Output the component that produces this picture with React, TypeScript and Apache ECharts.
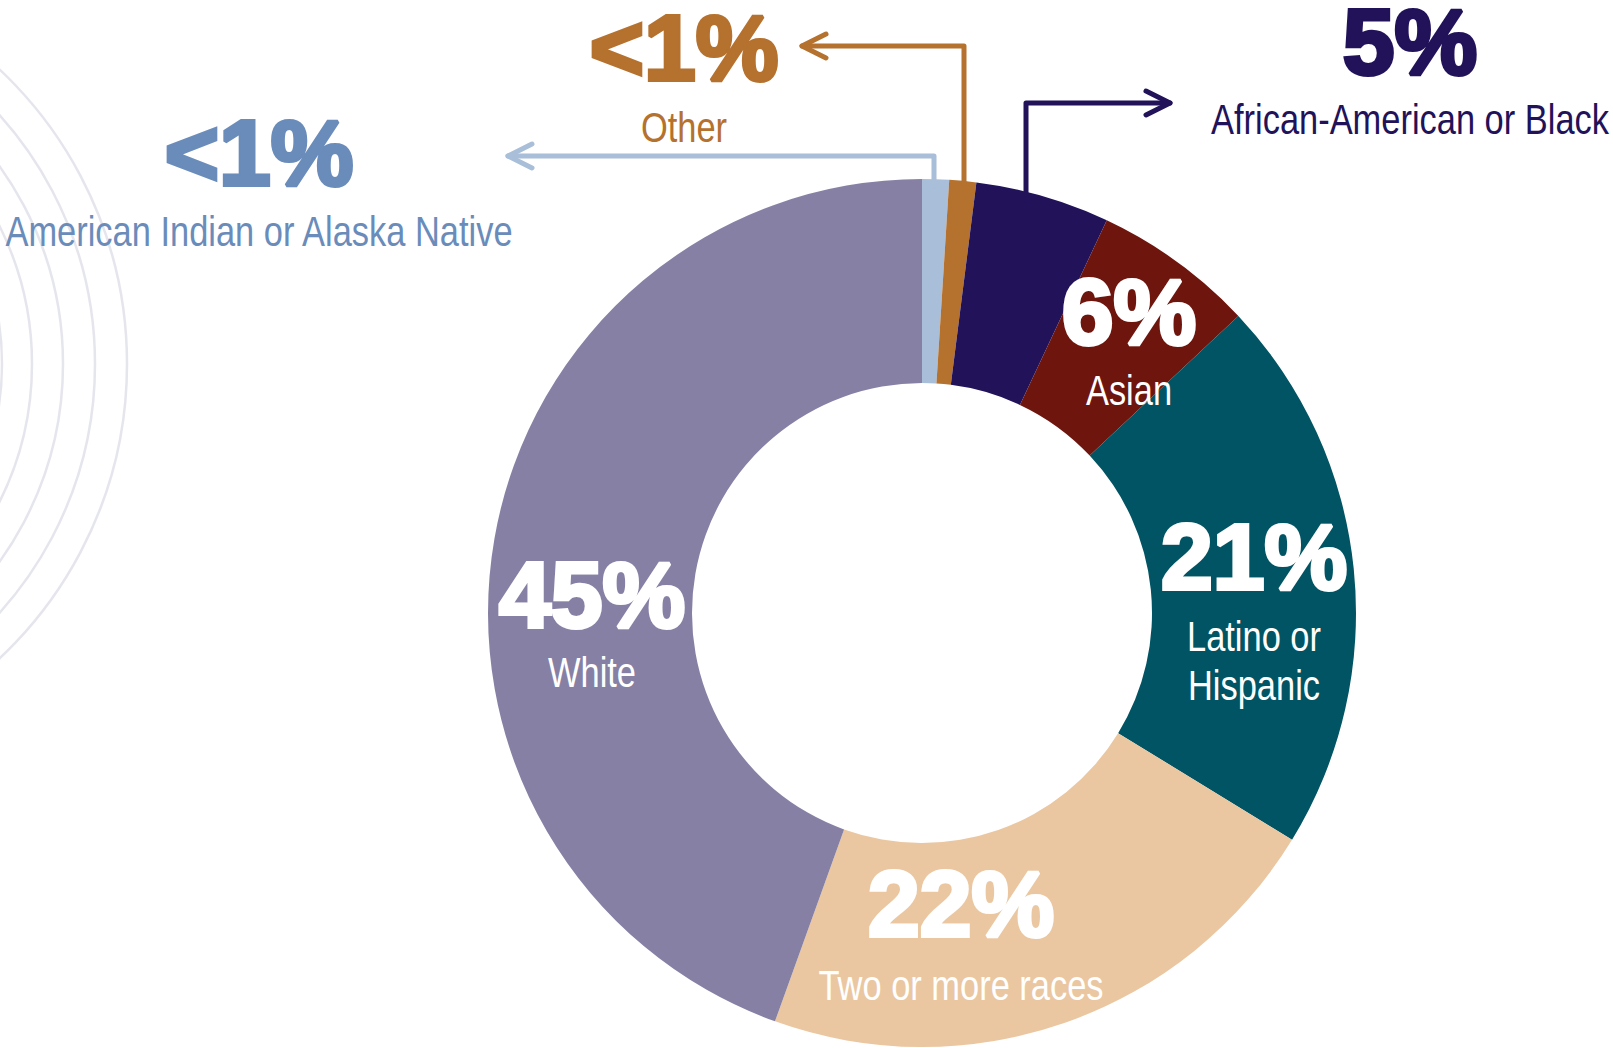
import React, { useEffect, useRef } from "react";
import * as echarts from "echarts";

// ---- data ----
const categories = [
  "American Indian or Alaska Native",
  "Other",
  "African-American or Black",
  "Asian",
  "Latino or\nHispanic",
  "Two or more races",
  "White",
];
const shares = [1.0, 1.0, 5.0, 6.0, 20.75, 21.75, 44.5];
const pctLabels = ["<1%", "<1%", "5%", "6%", "21%", "22%", "45%"];
const sliceColors = ["#a9bed8", "#b5712e", "#22125a", "#6e150e", "#005463", "#eac7a1", "#8680a5"];
const labelColors = ["#6a8cba", "#b5712e", "#22125a", "#ffffff", "#ffffff", "#ffffff", "#ffffff"];

// ---- layout (label anchors: center x, percent baseline, name baseline) ----
const labelLayout = [
  { cx: 259, pctBase: 185, nameBase: 246 },
  { cx: 684, pctBase: 80, nameBase: 142 },
  { cx: 1410, pctBase: 74, nameBase: 134 },
  { cx: 1129, pctBase: 344, nameBase: 405 },
  { cx: 1254, pctBase: 589, nameBase: 651 },
  { cx: 961, pctBase: 936, nameBase: 1000 },
  { cx: 592, pctBase: 627, nameBase: 687 },
];

const arrows = [
  { idx: 0, pts: [[934, 186], [934, 156], [508, 156]], dir: -1 },
  { idx: 1, pts: [[964, 186], [964, 46], [802, 46]], dir: -1 },
  { idx: 2, pts: [[1026, 200], [1026, 103], [1170, 103]], dir: 1 },
];

const PCT_SIZE = 93;
const NAME_SIZE = 42;
const NAME_LINE = 49;

export default function App() {
  const ref = useRef<HTMLDivElement>(null);
  useEffect(() => {
    if (!ref.current) return;
    const chart = echarts.init(ref.current, null, { renderer: "svg" });

    const graphics: any[] = [];
    // decorative concentric arcs
    [404, 372, 340, 309, 279].forEach((r) => {
      graphics.push({
        type: "circle",
        z: 0,
        silent: true,
        shape: { cx: -277, cy: 364, r },
        style: { fill: "none", stroke: "#e5e5ed", lineWidth: 2.5 },
      });
    });

    // arrows
    arrows.forEach((a) => {
      const color = sliceColors[a.idx];
      graphics.push({
        type: "polyline",
        z: 5,
        silent: true,
        shape: { points: a.pts },
        style: { fill: "none", stroke: color, lineWidth: 5, lineJoin: "round", lineCap: "round" },
      });
      const tip = a.pts[a.pts.length - 1];
      graphics.push({
        type: "polyline",
        z: 5,
        silent: true,
        shape: {
          points: [
            [tip[0] - a.dir * 24, tip[1] - 12],
            [tip[0], tip[1]],
            [tip[0] - a.dir * 24, tip[1] + 12],
          ],
        },
        style: { fill: "none", stroke: color, lineWidth: 5, lineJoin: "round", lineCap: "round" },
      });
    });

    // labels
    categories.forEach((name, i) => {
      const L = labelLayout[i];
      const col = labelColors[i];
      graphics.push({
        type: "text",
        z: 10,
        silent: true,
        x: L.cx,
        y: L.pctBase - PCT_SIZE * 0.3465,
        style: {
          text: pctLabels[i],
          fill: col,
          stroke: col,
          lineWidth: 4,
          fontFamily: "'Liberation Sans', Arial, sans-serif",
          fontWeight: "bold",
          fontSize: PCT_SIZE,
          align: "center",
          verticalAlign: "middle",
        },
      });
      name.split("\n").forEach((line, k) => {
        graphics.push({
          type: "text",
          z: 10,
          silent: true,
          x: L.cx,
          y: L.nameBase + k * NAME_LINE - NAME_SIZE * 0.3465,
          scaleX: 0.82,
          style: {
            text: line,
            fill: col,
            fontFamily: "'Liberation Sans', Arial, sans-serif",
            fontSize: NAME_SIZE,
            align: "center",
            verticalAlign: "middle",
          },
        });
      });
    });

    chart.setOption({
      animation: false,
      backgroundColor: "#ffffff",
      series: [
        {
          type: "pie",
          center: [922, 613],
          radius: [230, 434],
          startAngle: 90,
          clockwise: true,
          silent: true,
          label: { show: false },
          labelLine: { show: false },
          emphasis: { disabled: true },
          itemStyle: { borderWidth: 0 },
          data: categories.map((c, i) => ({
            name: c,
            value: shares[i],
            itemStyle: { color: sliceColors[i] },
          })),
        },
      ],
      graphic: graphics,
    });
    return () => chart.dispose();
  }, []);
  return (
    <div
      ref={ref}
      style={{ position: "absolute", left: 0, top: 0, width: 1613, height: 1048 }}
    />
  );
}
